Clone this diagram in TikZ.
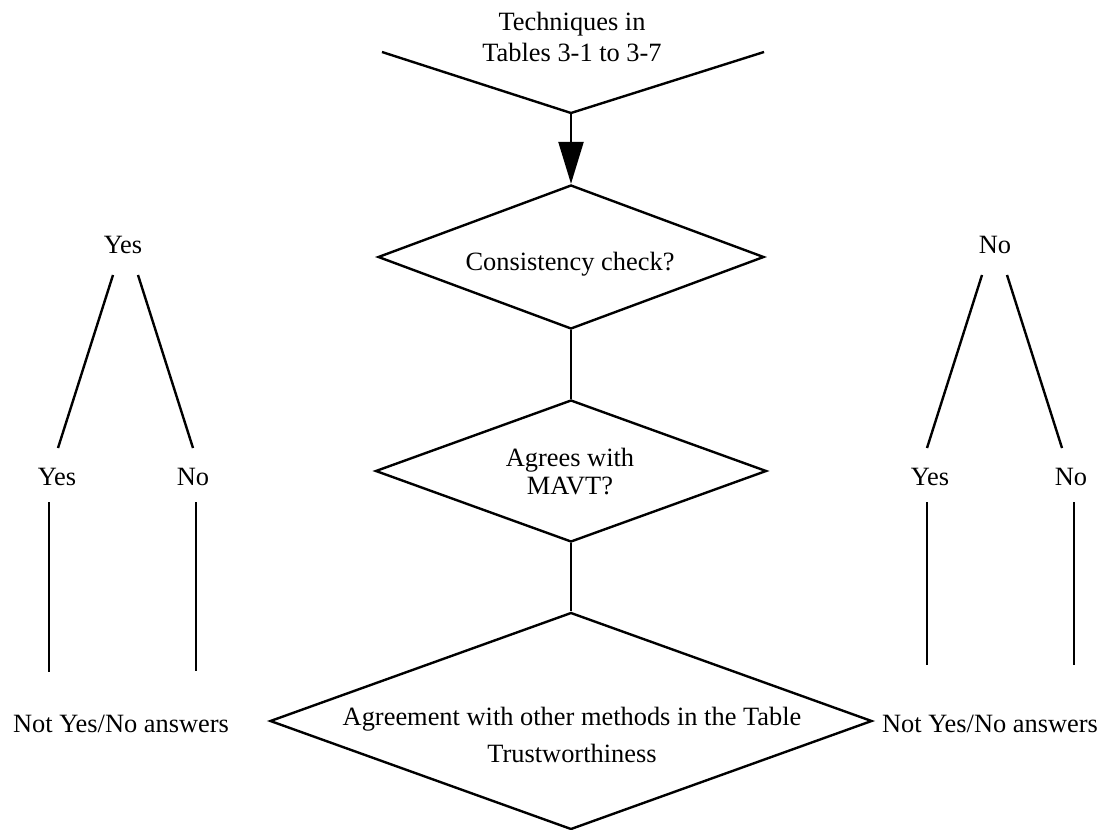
\documentclass[tikz,border=0pt]{standalone}
\usepackage{fontspec}
\setmainfont{Liberation Serif}
\usetikzlibrary{shapes.geometric,arrows.meta,positioning}

\begin{document}
\begin{tikzpicture}[x=0.5pt, y=-0.5pt, line width=1.2pt,
    decision/.style={draw, diamond, inner sep=0pt},
    txt/.style={font=\fontsize{13.2}{15.5}\selectfont, align=center, inner sep=0pt}]
    \useasboundingbox (0,0) rectangle (1112,829);

    % Input funnel
    \node[txt] (tech) at (572,37) {Techniques in\\Tables 3-1 to 3-7};
    \coordinate (funL) at (382,52);
    \coordinate (funR) at (764,52);
    \coordinate (funV) at (571,113);
    \draw (funL) -- (funV) -- (funR);

    % Decision chain
    \node[decision, minimum width=193pt, minimum height=72pt] (cons) at (571,257) {};
    \node[decision, minimum width=195.5pt, minimum height=71pt] (mavt) at (571,471) {};
    \node[decision, minimum width=301pt, minimum height=108.5pt] (agree) at (571,721) {};

    \node[txt] (consTxt) at (570,264) {Consistency check?};
    \node[txt, font=\fontsize{13.2}{14}\selectfont] (mavtTxt) at (570,472) {Agrees with\\MAVT?};
    \node[txt, font=\fontsize{13.2}{18.5}\selectfont] (agreeTxt) at (572,735)
        {Agreement with other methods in the Table\\Trustworthiness};

    \draw[-{Triangle[length=21pt, width=12.5pt]}] (funV) -- (cons.north);
    \draw (cons.south) -- (mavt.north);
    \draw (mavt.south) -- (agree.north);

    % Left branch
    \node[txt] (lTop) at (123,245) {Yes};
    \node[txt] (lYes) at (57,477) {Yes};
    \node[txt] (lNo) at (193,477) {No};
    \node[txt] (lNot) at (121,724) {Not Yes/No answers};
    \coordinate (lA1) at (113,275);
    \coordinate (lA2) at (58,448);
    \coordinate (lB1) at (138,275);
    \coordinate (lB2) at (193,448);
    \coordinate (lC1) at (49,502);
    \coordinate (lC2) at (49,672);
    \coordinate (lD1) at (196,502);
    \coordinate (lD2) at (196,671);
    \draw (lA1) -- (lA2);
    \draw (lB1) -- (lB2);
    \draw (lC1) -- (lC2);
    \draw (lD1) -- (lD2);

    % Right branch
    \node[txt] (rTop) at (995,245) {No};
    \node[txt] (rYes) at (930,477) {Yes};
    \node[txt] (rNo) at (1071,477) {No};
    \node[txt] (rNot) at (990,724) {Not Yes/No answers};
    \coordinate (rA1) at (982,275);
    \coordinate (rA2) at (927,448);
    \coordinate (rB1) at (1007,275);
    \coordinate (rB2) at (1062,448);
    \coordinate (rC1) at (927,502);
    \coordinate (rC2) at (927,665);
    \coordinate (rD1) at (1074,502);
    \coordinate (rD2) at (1074,665);
    \draw (rA1) -- (rA2);
    \draw (rB1) -- (rB2);
    \draw (rC1) -- (rC2);
    \draw (rD1) -- (rD2);
\end{tikzpicture}
\end{document}
